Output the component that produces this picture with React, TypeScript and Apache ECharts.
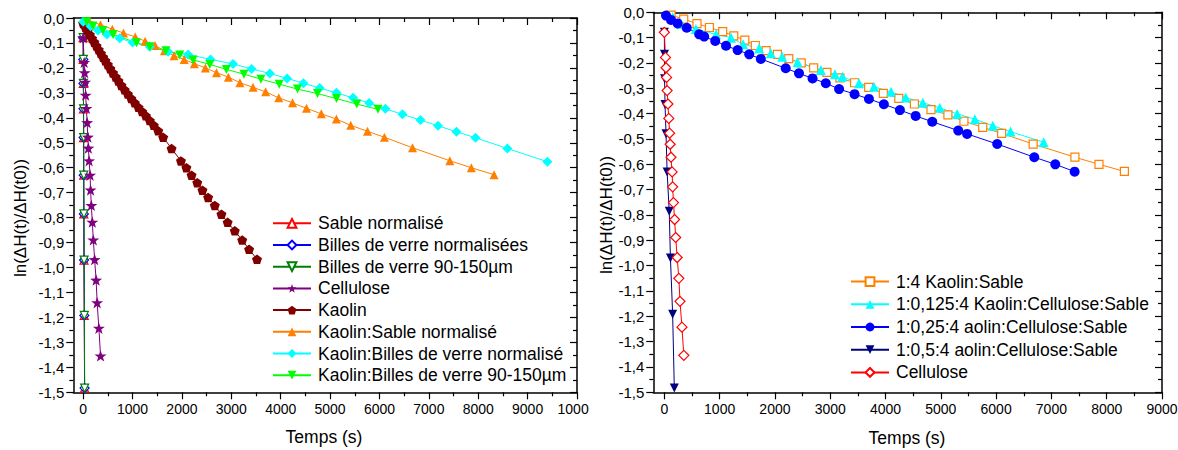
import React, { useEffect, useRef } from 'react';
import * as echarts from 'echarts';

const FONT = '"Liberation Sans", Arial, Helvetica, sans-serif';

// ---------- shared tick labels ----------
const leftXMajor = [0, 1000, 2000, 3000, 4000, 5000, 6000, 7000, 8000, 9000, 10000];
const leftXMinor = [500, 1500, 2500, 3500, 4500, 5500, 6500, 7500, 8500, 9500];
const rightXMajor = [0, 1000, 2000, 3000, 4000, 5000, 6000, 7000, 8000, 9000];
const rightXMinor = [500, 1500, 2500, 3500, 4500, 5500, 6500, 7500, 8500];

// ---------- left chart data ----------
const sableNormalise = [[0, -0.079], [2, -0.166], [4, -0.262], [6, -0.364], [8, -0.479], [10, -0.63], [13, -0.785], [17, -0.97], [22, -1.192], [28, -1.483]];
const billesNormalisees = [[0, -0.079], [3, -0.166], [5, -0.262], [7, -0.364], [9, -0.479], [11, -0.63], [14, -0.785], [18, -0.97], [23, -1.192], [29, -1.483]];
const billes90 = [[1, -0.079], [3, -0.166], [5, -0.262], [8, -0.364], [10, -0.479], [12, -0.63], [15, -0.785], [19, -0.97], [24, -1.192], [30, -1.483]];
const cellulose = [[0, -0.079], [20, -0.178], [30, -0.219], [40, -0.257], [50, -0.309], [65, -0.362], [80, -0.419], [95, -0.477], [105, -0.521], [120, -0.572], [140, -0.63], [150, -0.689], [165, -0.751], [185, -0.818], [205, -0.889], [232, -0.968], [262, -1.05], [283, -1.141], [318, -1.243], [352, -1.354]];
const kaolin = [[0, -0.022], [45, -0.037], [90, -0.052], [135, -0.067], [180, -0.082], [225, -0.097], [270, -0.112], [315, -0.127], [360, -0.142], [405, -0.157], [450, -0.171], [500, -0.187], [550, -0.203], [605, -0.22], [660, -0.236], [715, -0.252], [775, -0.27], [840, -0.288], [905, -0.305], [975, -0.323], [1045, -0.34], [1120, -0.358], [1195, -0.375], [1270, -0.392], [1350, -0.411], [1430, -0.43], [1520, -0.452], [1620, -0.478], [1790, -0.523], [1980, -0.573], [2090, -0.6], [2195, -0.63], [2310, -0.66], [2415, -0.69], [2530, -0.719], [2665, -0.751], [2800, -0.786], [2925, -0.819], [3070, -0.853], [3220, -0.89], [3360, -0.927], [3520, -0.967]];
const kaolinSable = [[120, -0.011], [350, -0.027], [590, -0.045], [815, -0.06], [1055, -0.076], [1255, -0.093], [1455, -0.11], [1645, -0.131], [1840, -0.151], [2045, -0.166], [2250, -0.183], [2475, -0.2], [2700, -0.219], [2940, -0.237], [3175, -0.259], [3440, -0.278], [3695, -0.296], [3960, -0.32], [4240, -0.34], [4522, -0.362], [4822, -0.384], [5128, -0.405], [5418, -0.43], [5758, -0.454], [6100, -0.478], [6670, -0.52], [7425, -0.572], [7860, -0.6], [8320, -0.628]];
const kaolinBillesNorm = [[0, -0.015], [150, -0.033], [300, -0.05], [480, -0.066], [740, -0.081], [1000, -0.098], [1350, -0.115], [1720, -0.135], [2125, -0.146], [2580, -0.166], [3035, -0.184], [3410, -0.204], [3780, -0.222], [4130, -0.242], [4460, -0.261], [4790, -0.281], [5130, -0.3], [5465, -0.32], [5790, -0.341], [6120, -0.364], [6465, -0.386], [6830, -0.409], [7185, -0.432], [7560, -0.456], [7945, -0.48], [8590, -0.523], [9400, -0.576]];
const kaolinBilles90 = [[70, -0.015], [200, -0.032], [400, -0.05], [605, -0.066], [1080, -0.099], [1350, -0.115], [1675, -0.131], [1955, -0.148], [2225, -0.168], [2565, -0.186], [2900, -0.206], [3255, -0.225], [3600, -0.245], [3970, -0.265], [4340, -0.285], [4745, -0.303], [5130, -0.323], [5540, -0.345], [5970, -0.366]];

// ---------- right chart data ----------
const kaolinSable14 = kaolinSable;
const kcs0125 = [[150, -0.02], [300, -0.045], [570, -0.066], [935, -0.087], [1205, -0.1], [1425, -0.126], [1715, -0.142], [1925, -0.162], [2130, -0.175], [2410, -0.197], [2830, -0.228], [3085, -0.245], [3220, -0.254], [3520, -0.28], [3790, -0.294], [4100, -0.314], [4365, -0.336], [4675, -0.357], [4980, -0.377], [5295, -0.401], [5615, -0.422], [5940, -0.448], [6260, -0.471], [6860, -0.513]];
const kcs025 = [[30, -0.013], [120, -0.03], [240, -0.044], [405, -0.061], [630, -0.087], [720, -0.096], [920, -0.113], [1115, -0.132], [1325, -0.149], [1535, -0.166], [1745, -0.184], [2195, -0.221], [2435, -0.241], [2680, -0.261], [2920, -0.28], [3160, -0.303], [3440, -0.323], [3700, -0.342], [3970, -0.363], [4260, -0.386], [4545, -0.409], [4845, -0.432], [5315, -0.467], [5475, -0.48], [6020, -0.52], [6690, -0.572], [7070, -0.6], [7420, -0.629]];
const kcs05 = [[0, -0.079], [2, -0.166], [4, -0.262], [12, -0.364], [30, -0.479], [50, -0.63], [88, -0.785], [110, -0.97], [150, -1.192], [180, -1.483]];
const celluloseRight = cellulose;

const STAR = 'path://M0,-10 L2.35,-3.24 L9.51,-3.09 L3.8,1.24 L5.88,8.09 L0,4 L-5.88,8.09 L-3.8,1.24 L-9.51,-3.09 L-2.35,-3.24 Z';
const PENTAGON = 'path://M0,-10 L9.51,-3.09 L5.88,8.09 L-5.88,8.09 L-9.51,-3.09 Z';

function mkSeries(name: string, data: number[][], color: string, symbol: string, size: number, open: boolean, rotate = 0) {
  return {
    name,
    type: 'line',
    data,
    xAxisIndex: 0,
    yAxisIndex: 0,
    symbol,
    symbolSize: size,
    symbolRotate: rotate,
    symbolKeepAspect: true,
    showSymbol: true,
    showAllSymbol: true,
    clip: true,
    lineStyle: { color, width: 1 },
    itemStyle: open ? { color: '#fff', borderColor: color, borderWidth: 1.2 } : { color, borderColor: color, borderWidth: 0 },
    emphasis: { disabled: true },
  };
}

const leftSeries = [
  mkSeries('Sable normalisé', sableNormalise, '#FF0000', 'triangle', 8, true),
  mkSeries('Billes de verre normalisées', billesNormalisees, '#0000FF', 'diamond', 9, true),
  mkSeries('Billes de verre 90-150µm', billes90, '#008000', 'triangle', 8, true, 180),
  mkSeries('Cellulose', cellulose, '#800080', STAR, 12, false),
  mkSeries('Kaolin', kaolin, '#800000', PENTAGON, 10, false),
  mkSeries('Kaolin:Sable normalisé', kaolinSable, '#FF8000', 'triangle', 9, false),
  mkSeries('Kaolin:Billes de verre normalisé', kaolinBillesNorm, '#00FFFF', 'diamond', 10, false),
  mkSeries('Kaolin:Billes de verre 90-150µm', kaolinBilles90, '#00FF00', 'triangle', 9, false, 180),
];

const rightSeries = [
  mkSeries('1:4 Kaolin:Sable', kaolinSable14, '#FF8000', 'rect', 8, true),
  mkSeries('1:0,125:4 Kaolin:Cellulose:Sable', kcs0125, '#00FFFF', 'triangle', 10, false),
  mkSeries('1:0,25:4 aolin:Cellulose:Sable', kcs025, '#0000FF', 'circle', 10, false),
  mkSeries('1:0,5:4 aolin:Cellulose:Sable', kcs05, '#000080', 'triangle', 9, false, 180),
  mkSeries('Cellulose', celluloseRight, '#FF0000', 'diamond', 10, true),
];

const axisLineStyle = { color: '#000', width: 1.5 };
const tickStyle = { color: '#000', width: 1.2 };

function buildOption(p: any) {
  const xBase = { type: 'value', gridIndex: 0, min: -200, max: p.xMax, splitLine: { show: false } };
  const yBase = { type: 'value', gridIndex: 0, min: -1.5, max: 0, interval: 0.1, splitLine: { show: false }, minorSplitLine: { show: false } };
  return {
    animation: false,
    backgroundColor: '#fff',
    grid: { left: p.grid[0], right: p.grid[1], top: p.grid[2], bottom: p.grid[3], containLabel: false, outerBoundsMode: 'none' },
    xAxis: [
      {
        ...xBase, position: 'bottom',
        axisLine: { show: true, onZero: false, lineStyle: axisLineStyle },
        axisTick: { show: true, inside: false, length: 7, customValues: p.xMajor, lineStyle: tickStyle },
        axisLabel: { show: true, customValues: p.xMajor, margin: 10, fontSize: 14, fontFamily: FONT, color: '#000', formatter: (v: number) => String(v), hideOverlap: false },
      },
      {
        ...xBase, position: 'bottom',
        axisLine: { show: false, onZero: false },
        axisTick: { show: true, inside: false, length: 4, customValues: p.xMinor, lineStyle: tickStyle },
        axisLabel: { show: false },
      },
      {
        ...xBase, position: 'top',
        axisLine: { show: true, onZero: false, lineStyle: axisLineStyle },
        axisTick: { show: true, inside: true, length: 7, customValues: p.xMajor, lineStyle: tickStyle },
        axisLabel: { show: false },
      },
      {
        ...xBase, position: 'top',
        axisLine: { show: false, onZero: false },
        axisTick: { show: true, inside: true, length: 4, customValues: p.xMinor, lineStyle: tickStyle },
        axisLabel: { show: false },
      },
    ],
    yAxis: [
      {
        ...yBase, position: 'left',
        axisLine: { show: true, onZero: false, lineStyle: axisLineStyle },
        axisTick: { show: true, inside: false, length: 7, lineStyle: tickStyle },
        minorTick: { show: true, splitNumber: 2, length: 4, lineStyle: tickStyle },
        axisLabel: { show: true, margin: 9, fontSize: 15, fontFamily: FONT, color: '#000', formatter: (v: number) => v.toFixed(1).replace('.', ',').replace('-0,0', '0,0') },
      },
      {
        ...yBase, position: 'right',
        axisLine: { show: true, onZero: false, lineStyle: axisLineStyle },
        axisTick: { show: true, inside: true, length: 7, lineStyle: tickStyle },
        minorTick: { show: true, splitNumber: 2, length: 4, lineStyle: tickStyle },
        axisLabel: { show: false },
      },
    ],
    legend: {
      orient: 'vertical',
      left: p.legend.left,
      top: p.legend.top,
      itemWidth: 38,
      itemHeight: 11,
      itemGap: p.legend.gap,
      selectedMode: false,
      padding: 0,
      textStyle: { fontSize: 17.5, fontFamily: FONT, color: '#000', lineHeight: 18, padding: [0, 0, 0, 2] },
      data: p.series.map((s: any) => s.name),
    },
    graphic: [
      {
        type: 'text', x: p.yTitle[0], y: p.yTitle[1], rotation: Math.PI / 2, silent: true,
        style: { text: 'ln(ΔH(t)/ΔH(t0))', fontSize: 17, fontFamily: FONT, fill: '#000', align: 'center', verticalAlign: 'middle' },
      },
      {
        type: 'text', x: p.xTitle[0], y: p.xTitle[1], silent: true,
        style: { text: 'Temps (s)', fontSize: 17.5, fontFamily: FONT, fill: '#000', align: 'center', verticalAlign: 'middle' },
      },
    ],
    series: p.series,
  };
}

const leftOption = buildOption({
  xMax: 10000, xMajor: leftXMajor, xMinor: leftXMinor,
  grid: [73.3, 12, 18, 57.7],
  legend: { left: 272, top: 214.3, gap: 3.7 },
  yTitle: [20, 218], xTitle: [324, 437],
  series: leftSeries,
});

const rightOption = buildOption({
  xMax: 9000, xMajor: rightXMajor, xMinor: rightXMinor,
  grid: [64.3, 16, 12.3, 57.7],
  legend: { left: 261, top: 272.6, gap: 4.7 },
  yTitle: [17, 215], xTitle: [318, 438],
  series: rightSeries,
});

function ChartBox({ option, left }: { option: any; left: number }) {
  const ref = useRef<HTMLDivElement>(null);
  useEffect(() => {
    const chart = echarts.init(ref.current as HTMLDivElement, null, { renderer: 'svg' });
    chart.setOption(option);
    return () => chart.dispose();
  }, [option]);
  return <div ref={ref} style={{ position: 'absolute', left, top: 0, width: 589, height: 450, overflow: 'hidden' }} />;
}

export default function App() {
  return (
    <div style={{ position: 'absolute', left: 0, top: 0, width: 1178, height: 450, overflow: 'hidden', background: '#fff' }}>
      <ChartBox option={leftOption} left={0} />
      <ChartBox option={rightOption} left={589} />
    </div>
  );
}
